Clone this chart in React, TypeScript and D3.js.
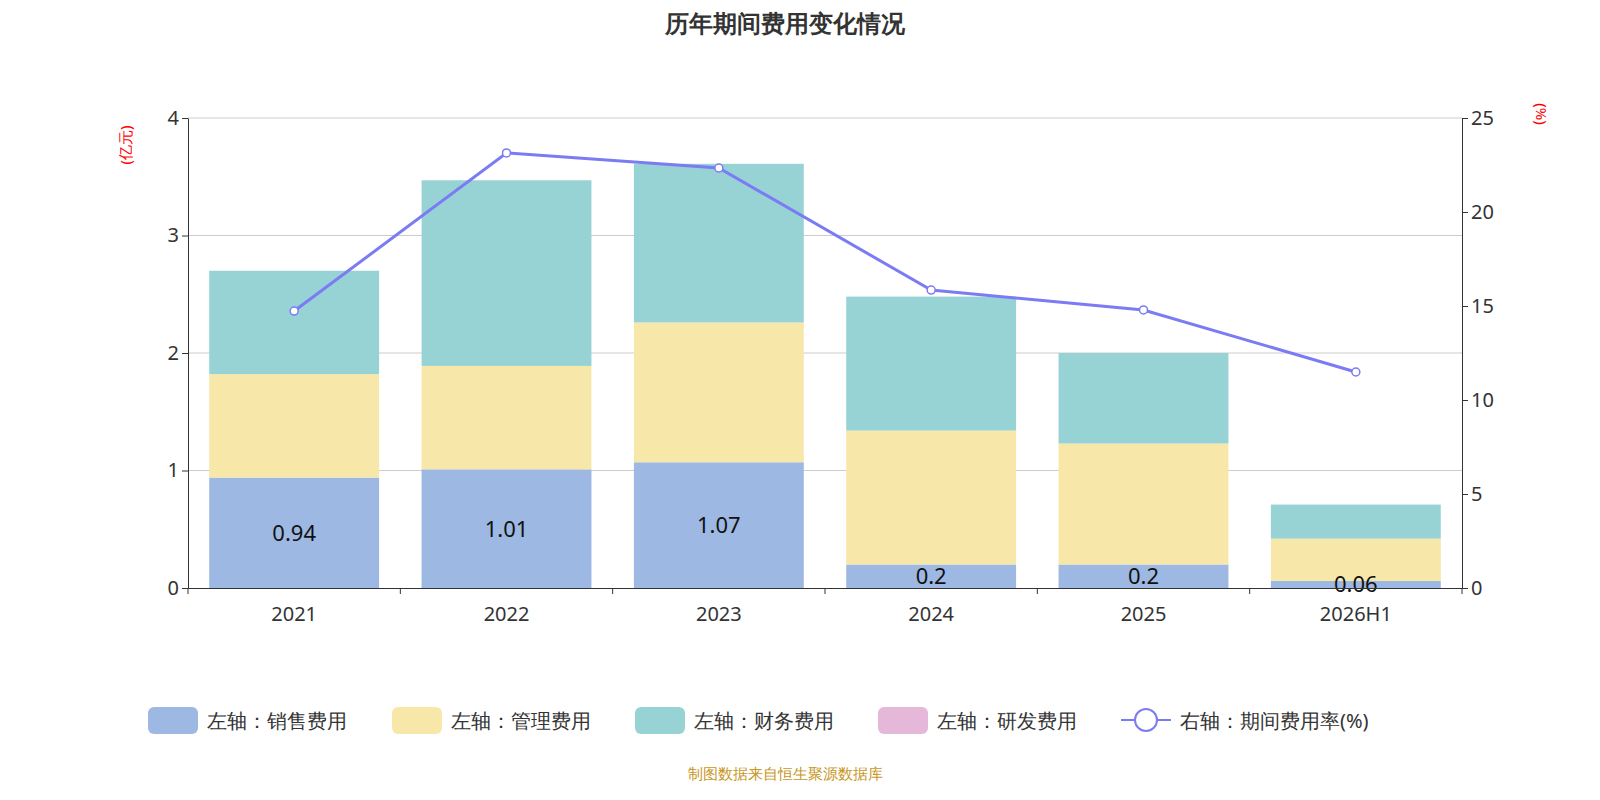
import React, { useEffect, useRef } from 'react';
import * as d3 from 'd3';

const years = ['2021', '2022', '2023', '2024', '2025', '2026H1'];
const sales = [0.94, 1.01, 1.07, 0.2, 0.2, 0.06];
const admin = [0.88, 0.88, 1.19, 1.14, 1.03, 0.36];
const finance = [0.88, 1.58, 1.35, 1.14, 0.77, 0.29];
const rnd = [0, 0, 0, 0, 0, 0];
const rate = [14.73, 23.14, 22.34, 15.85, 14.79, 11.49];
const leftTicks = [0, 1, 2, 3, 4];
const rightTicks = [0, 5, 10, 15, 20, 25];

const colors = ['#9db8e2', '#f7e7a8', '#97d3d4', '#e5b8d9'];
const lineColor = '#7b7bf4';
const font = '"Noto Sans", sans-serif';

const App: React.FC = () => {
    const svgRef = useRef<SVGSVGElement>(null);

    useEffect(() => {
        if (!svgRef.current) return;
        const svg = d3.select(svgRef.current);
        svg.selectAll('*').remove();
        const L = 188, R = 1462, T = 118, B = 588;
        const x = d3.scaleBand().domain(years).range([L, R]).paddingInner(0.2).paddingOuter(0.1);
        const band = d3.scaleBand().domain(years).range([L, R]);
        const y = d3.scaleLinear().domain([0, 4]).range([B, T]);
        const y2 = d3.scaleLinear().domain([0, 25]).range([B, T]);

        svg.append('text').attr('x', 785).attr('y', 32).attr('text-anchor', 'middle')
            .attr('font-size', 24).attr('font-weight', 'bold').attr('fill', '#333').text('历年期间费用变化情况');

        svg.selectAll('.grid').data(leftTicks.slice(1)).join('line')
            .attr('x1', L).attr('x2', R).attr('y1', d => y(d)).attr('y2', d => y(d))
            .attr('stroke', '#ccc');

        const series = [sales, admin, finance, rnd];
        years.forEach((yr, i) => {
            let base = 0;
            series.forEach((s, k) => {
                const v = s[i];
                if (v > 0) {
                    svg.append('rect').attr('x', x(yr)!).attr('width', x.bandwidth())
                        .attr('y', y(base + v)).attr('height', y(base) - y(base + v)).attr('fill', colors[k]);
                }
                base += v;
            });
            svg.append('text').attr('x', x(yr)! + x.bandwidth() / 2).attr('y', y(sales[i] / 2) + 8)
                .attr('text-anchor', 'middle').attr('font-size', 22).attr('fill', '#111').text(String(sales[i]));
        });

        const line = d3.line<number>().x((d, i) => x(years[i])! + x.bandwidth() / 2).y(d => y2(d));
        svg.append('path').datum(rate).attr('d', line).attr('fill', 'none')
            .attr('stroke', lineColor).attr('stroke-width', 3);
        svg.selectAll('.pt').data(rate).join('circle')
            .attr('cx', (d, i) => x(years[i])! + x.bandwidth() / 2).attr('cy', d => y2(d))
            .attr('r', 4).attr('fill', '#fff').attr('stroke', lineColor).attr('stroke-width', 1.5);

        const ax = svg.append('g').attr('transform', `translate(0,${B})`)
            .call(d3.axisBottom(band).tickSize(6).tickSizeOuter(0));
        ax.selectAll('.tick line').attr('transform', `translate(${-band.bandwidth() / 2},0)`);
        ax.append('line').attr('x1', R).attr('x2', R).attr('y1', 0).attr('y2', 6).attr('stroke', '#333');
        const ay = svg.append('g').attr('transform', `translate(${L},0)`)
            .call(d3.axisLeft(y).tickValues(leftTicks).tickFormat(d3.format('d')).tickSize(6).tickSizeOuter(0));
        const ay2 = svg.append('g').attr('transform', `translate(${R},0)`)
            .call(d3.axisRight(y2).tickValues(rightTicks).tickSize(6).tickSizeOuter(0));
        [ax, ay, ay2].forEach(g => {
            g.selectAll('text').attr('font-size', 20).attr('font-family', font).attr('fill', '#333');
            g.selectAll('line,path').attr('stroke', '#333');
        });
        ax.selectAll('text').attr('dy', '1.2em');

        svg.append('text').attr('transform', 'translate(131,145) rotate(-90)').attr('text-anchor', 'middle')
            .attr('font-size', 15).attr('fill', 'red').text('(亿元)');
        svg.append('text').attr('transform', 'translate(1536,114) rotate(90)').attr('text-anchor', 'middle')
            .attr('font-size', 15).attr('fill', 'red').text('(%)');

        const legend = ['左轴：销售费用', '左轴：管理费用', '左轴：财务费用', '左轴：研发费用'];
        const lx = [148, 392, 635, 878];
        legend.forEach((t, k) => {
            svg.append('rect').attr('x', lx[k]).attr('y', 707).attr('width', 50).attr('height', 27)
                .attr('rx', 6).attr('fill', colors[k]);
            svg.append('text').attr('x', lx[k] + 59).attr('y', 728).attr('font-size', 20)
                .attr('fill', '#333').text(t);
        });
        svg.append('line').attr('x1', 1121).attr('x2', 1171).attr('y1', 720).attr('y2', 720)
            .attr('stroke', lineColor).attr('stroke-width', 2);
        svg.append('circle').attr('cx', 1146).attr('cy', 720).attr('r', 11).attr('fill', '#fff')
            .attr('stroke', lineColor).attr('stroke-width', 2);
        svg.append('text').attr('x', 1180).attr('y', 728).attr('font-size', 20).attr('fill', '#333')
            .text('右轴：期间费用率(%)');

        svg.append('text').attr('x', 785).attr('y', 779).attr('text-anchor', 'middle')
            .attr('font-size', 15).attr('fill', '#c8961e').text('制图数据来自恒生聚源数据库');
    }, []);

    return <svg ref={svgRef} width={1600} height={800}
        style={{ fontFamily: font, display: 'block', position: 'absolute', left: 0, top: 0 }} />;
};

export default App;
